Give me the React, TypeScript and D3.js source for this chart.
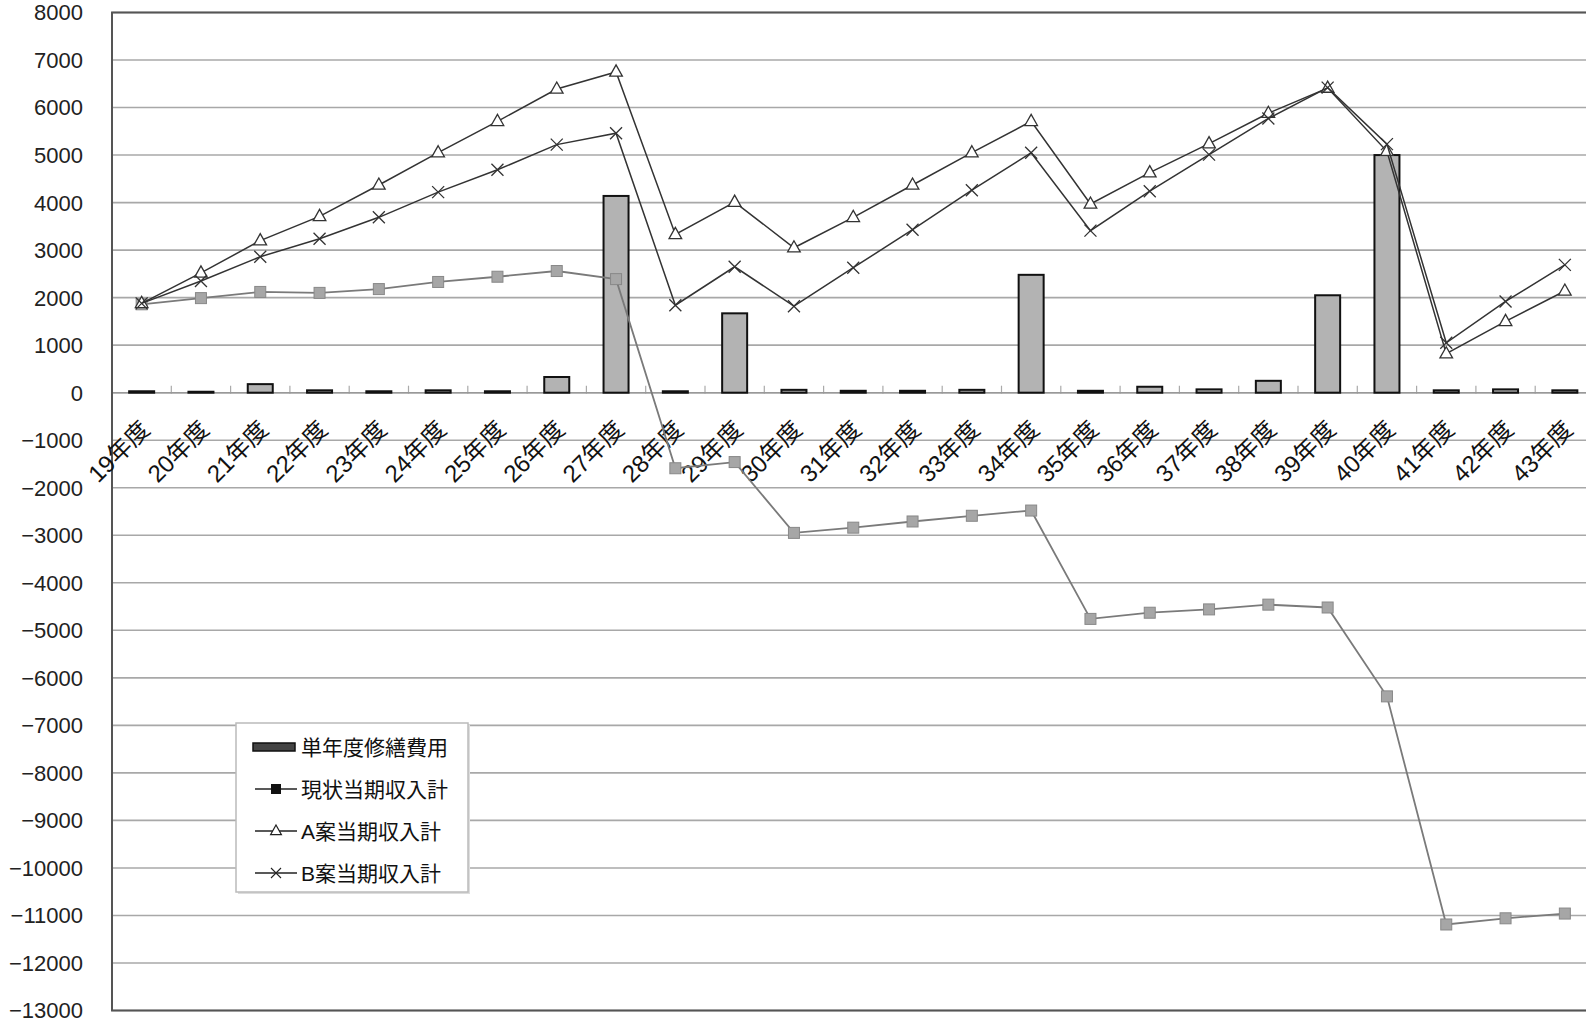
import React from 'react';
import * as d3 from 'd3';

// 年度 categories along the x axis
const categories = [
  '19年度', '20年度', '21年度', '22年度', '23年度', '24年度', '25年度', '26年度', '27年度',
  '28年度', '29年度', '30年度', '31年度', '32年度', '33年度', '34年度', '35年度', '36年度',
  '37年度', '38年度', '39年度', '40年度', '41年度', '42年度', '43年度',
];

// 単年度修繕費用 (bars)
const repairCost = [
  30, 20, 180, 50, 30, 50, 30, 330, 4140, 30, 1670, 60, 40, 40, 60, 2480, 40, 125, 70, 250, 2050,
  5000, 50, 70, 50,
];

// 現状当期収入計
const currentIncome = [
  1860, 1990, 2120, 2100, 2180, 2330, 2440, 2560, 2390, -1590, -1460, -2950, -2840, -2710, -2590,
  -2480, -4760, -4630, -4560, -4460, -4520, -6390, -11190, -11060, -10960,
];

// A案当期収入計
const planAIncome = [
  1880, 2520, 3200, 3710, 4370, 5050, 5710, 6390, 6750, 3330, 4010, 3050, 3690, 4370, 5050, 5710,
  3970, 4630, 5240, 5880, 6410, 5080, 820, 1500, 2140,
];

// B案当期収入計
const planBIncome = [
  1880, 2350, 2860, 3240, 3690, 4220, 4690, 5220, 5460, 1840, 2650, 1820, 2630, 3430, 4260, 5050,
  3410, 4240, 5010, 5770, 6420, 5230, 1050, 1920, 2690,
];

// y axis ticks
const yTicks = [
  8000, 7000, 6000, 5000, 4000, 3000, 2000, 1000, 0, -1000, -2000, -3000, -4000, -5000, -6000,
  -7000, -8000, -9000, -10000, -11000, -12000, -13000,
];

// legend entries
const legendLabels = ['単年度修繕費用', '現状当期収入計', 'A案当期収入計', 'B案当期収入計'];

const W = 1586;
const H = 1024;
const plotLeft = 112;
const plotTop = 12.5;
const plotBottom = 1010.5;
const band = 59.3;
const plotRight = plotLeft + band * categories.length;

const FONT = '"Liberation Sans", Arial, "Noto Sans CJK JP", sans-serif';

export default function App() {
  const x = d3.scaleBand<string>().domain(categories).range([plotLeft, plotRight]).padding(0);
  const y = d3.scaleLinear().domain([-13000, 8000]).range([plotBottom, plotTop]);
  const cx = (i: number) => (x(categories[i]) as number) + x.bandwidth() / 2;
  const y0 = y(0);
  const barW = 25;
  const fmt = d3.format('d');

  const line = d3
    .line<number>()
    .x((_, i) => cx(i))
    .y((v) => y(v));

  const tri = (px: number, py: number, s = 7) =>
    `M${px},${py - s} L${px + s * 0.9},${py + s * 0.6} L${px - s * 0.9},${py + s * 0.6} Z`;
  const cross = (px: number, py: number, s = 6) =>
    `M${px - s},${py - s} L${px + s},${py + s} M${px - s},${py + s} L${px + s},${py - s}`;

  const legX = 236;
  const legY = 723;
  const legW = 232;
  const legH = 169;
  const rowY = (i: number) => 747 + i * 42;

  return (
    <div style={{ position: 'absolute', left: 0, top: 0 }}>
      <svg width={W} height={H} style={{ display: 'block', background: '#fff' }} fontFamily={FONT}>
        {/* horizontal gridlines */}
        {yTicks.map((t) => (
          <line
            key={'g' + t}
            x1={plotLeft}
            x2={plotRight}
            y1={y(t)}
            y2={y(t)}
            stroke="#a8a8a8"
            strokeWidth={1.6}
          />
        ))}
        {/* category ticks on the zero line */}
        {categories.map((c) => (
          <line
            key={'t' + c}
            x1={x(c) as number}
            x2={x(c) as number}
            y1={y0 - 7}
            y2={y0 + 1}
            stroke="#aaa"
            strokeWidth={1.2}
          />
        ))}
        <line x1={plotLeft} x2={plotRight} y1={y0} y2={y0} stroke="#999" strokeWidth={1.6} />
        {/* plot frame */}
        <rect
          x={plotLeft}
          y={plotTop}
          width={plotRight - plotLeft}
          height={plotBottom - plotTop}
          fill="none"
          stroke="#555"
          strokeWidth={2}
        />
        {/* y tick labels */}
        {yTicks.map((t) => (
          <text
            key={'yl' + t}
            x={83}
            y={y(t)}
            dy="0.36em"
            textAnchor="end"
            fontSize={22}
            fill="#222"
          >
            {fmt(t)}
          </text>
        ))}
        {/* bars */}
        {repairCost.map((v, i) => (
          <rect
            key={'b' + i}
            x={cx(i) - barW / 2}
            y={y(v)}
            width={barW}
            height={Math.max(y0 - y(v), 0.5)}
            fill="#b3b3b3"
            stroke="#111"
            strokeWidth={2}
          />
        ))}
        {/* x labels */}
        {categories.map((c, i) => (
          <text
            key={'xl' + c}
            transform={`translate(${cx(i) + 9.5},${431}) rotate(-45)`}
            textAnchor="end"
            fontSize={24}
            fill="#111"
          >
            {c}
          </text>
        ))}
        {/* 現状 line */}
        <path d={line(currentIncome) as string} fill="none" stroke="#7a7a7a" strokeWidth={1.8} />
        {currentIncome.map((v, i) => (
          <rect
            key={'s' + i}
            x={cx(i) - 5.5}
            y={y(v) - 5.5}
            width={11}
            height={11}
            fill="#a6a6a6"
            stroke="#888"
            strokeWidth={1}
          />
        ))}
        {/* A案 line */}
        <path d={line(planAIncome) as string} fill="none" stroke="#333" strokeWidth={1.5} />
        {planAIncome.map((v, i) => (
          <path key={'a' + i} d={tri(cx(i), y(v))} fill="#fff" stroke="#333" strokeWidth={1.3} />
        ))}
        {/* B案 line */}
        <path d={line(planBIncome) as string} fill="none" stroke="#333" strokeWidth={1.5} />
        {planBIncome.map((v, i) => (
          <path key={'x' + i} d={cross(cx(i), y(v))} fill="none" stroke="#333" strokeWidth={1.3} />
        ))}
        {/* legend */}
        <rect x={legX + 2} y={legY + 2} width={legW} height={legH} fill="#ddd" stroke="none" />
        <rect x={legX} y={legY} width={legW} height={legH} fill="#fff" stroke="#bbb" strokeWidth={1.5} />
        {legendLabels.map((lab, i) => {
          const ry = rowY(i);
          let sym: React.ReactNode = null;
          if (i === 0) {
            sym = <rect x={253} y={ry - 4} width={42} height={8} fill="#444" stroke="#111" strokeWidth={1.5} />;
          } else {
            const mk =
              i === 1 ? (
                <rect x={271} y={ry - 5} width={10} height={10} fill="#111" />
              ) : i === 2 ? (
                <path d={tri(276, ry, 6)} fill="#fff" stroke="#222" strokeWidth={1.2} />
              ) : (
                <path d={cross(276, ry, 5)} fill="none" stroke="#222" strokeWidth={1.1} />
              );
            sym = (
              <g>
                <line x1={255} x2={297} y1={ry} y2={ry} stroke="#222" strokeWidth={1.5} />
                {mk}
              </g>
            );
          }
          return (
            <g key={'lg' + i}>
              {sym}
              <text x={301} y={ry} dy="0.36em" fontSize={21} fill="#111">
                {lab}
              </text>
            </g>
          );
        })}
      </svg>
    </div>
  );
}
